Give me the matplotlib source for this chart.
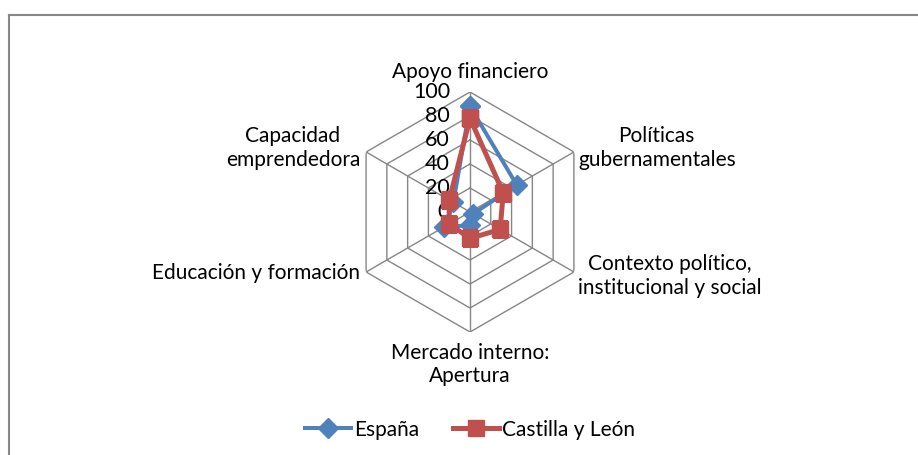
import numpy as np
import matplotlib
matplotlib.use("Agg")
import matplotlib.pyplot as plt
from matplotlib.lines import Line2D

plt.rcParams['font.family'] = ['Lato', 'DejaVu Sans']

categories = ["Apoyo financiero",
              "Políticas\ngubernamentales",
              "Contexto político,\ninstitucional y social",
              "Mercado interno:\nApertura",
              "Educación y formación",
              "Capacidad\nemprendedora"]
espana = [88, 45, 3, 11, 25, 16]
castilla = [78, 32, 29, 22, 20, 20]
rings = [0, 20, 40, 60, 80, 100]
series_names = ["España", "Castilla y León"]

W, H = 918, 456
fig = plt.figure(figsize=(W / 100, H / 100), dpi=100)
cx, cy, R = 470, 213, 120
ax = fig.add_axes([(cx - R) / W, (H - cy - R) / H, 2 * R / W, 2 * R / H], projection='polar')
ax.set_theta_offset(np.pi / 2)
ax.set_theta_direction(-1)
ax.set_ylim(0, 100)
ax.grid(False)
ax.spines['polar'].set_visible(False)
ax.set_xticks([])
ax.set_yticks([])
ax.patch.set_alpha(0)

n = len(categories)
angles = np.linspace(0, 2 * np.pi, n, endpoint=False)
closed = np.append(angles, angles[0])

grid_col = '#868686'
for r in rings[1:]:
    ax.plot(closed, [r] * (n + 1), color=grid_col, lw=1.0, zorder=1)
for a in angles:
    ax.plot([a, a], [0, 100], color=grid_col, lw=1.0, zorder=1)

px = 72 / 100
for r in rings:
    ax.annotate(str(r), xy=(0, r), xytext=(-20 * px, 1 * px), textcoords='offset points',
                ha='right', va='center', fontsize=15.5, color='black', zorder=3)

ax.plot(closed, espana + espana[:1], color='#4F81BD', lw=4 * px, marker='D',
        markersize=10, zorder=4, label=series_names[0])
ax.plot(closed, castilla + castilla[:1], color='#C0504D', lw=5 * px, marker='s',
        markersize=11.5, zorder=5, label=series_names[1])

# category labels: (offset x px, offset y px, ha, va)
lab_pos = [(0, 11, 'center', 'bottom'),
           (4, 5, 'left', 'center'),
           (4, -3, 'left', 'center'),
           (0, -10, 'center', 'top'),
           (-6, 0, 'right', 'center'),
           (-6, 5, 'right', 'center')]
for a, txt, (dx, dy, ha, va) in zip(angles, categories, lab_pos):
    ax.annotate(txt, xy=(a, 100), xytext=(dx * px, dy * px), textcoords='offset points',
                ha=ha, va=va, fontsize=15, multialignment='center',
                linespacing=1.2, annotation_clip=False)

fig.legend(loc='center', bbox_to_anchor=(cx / W, 1 - 430 / H), ncol=2, frameon=False,
           fontsize=15, handlelength=2.2, columnspacing=1.6, handletextpad=0.15)

border = '#878787'
fig.add_artist(Line2D([9 / W, 1], [1 - 16 / H, 1 - 16 / H], color=border, lw=1.5))
fig.add_artist(Line2D([9 / W, 9 / W], [0, 1 - 16 / H], color=border, lw=1.5))

fig.savefig("out.png", dpi=100, facecolor='white')
